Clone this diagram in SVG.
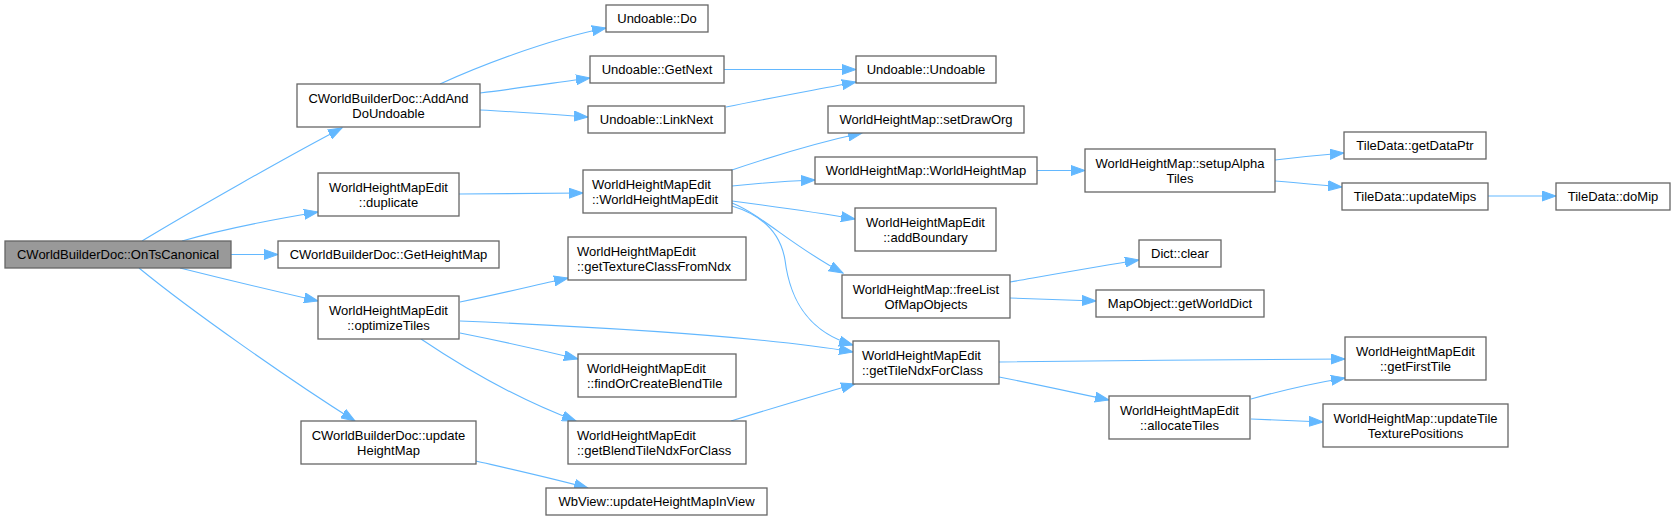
<svg xmlns="http://www.w3.org/2000/svg" width="1675" height="520" viewBox="0 0 1675 520">
<style>
.n rect{fill:#fff;stroke:#666;stroke-width:1.3}
.n.root rect{fill:#999}
.n text{font-family:"Liberation Sans",Arial,sans-serif;font-size:13px;fill:#000;text-anchor:middle}
.n text.l{text-anchor:start}
.e path{fill:none;stroke:#63b8ff;stroke-width:1.1;marker-end:url(#ah)}
</style>
<defs>
<marker id="ah" markerUnits="userSpaceOnUse" markerWidth="15" markerHeight="11" viewBox="0 0 15 11" refX="14" refY="5.5" orient="auto">
<path d="M0,0.5 L14,5.5 L0,10.5 z" fill="#63b8ff" stroke="#63b8ff" stroke-width="1"/>
</marker>
</defs>
<rect width="1675" height="520" fill="#fff"/>
<g id="edges" class="e">
<path d="M142,241 C190,212 290,155 342,128"/>
<path d="M182,241 C220,230 270,220 318,212"/>
<path d="M231,254.5 L278,254.5"/>
<path d="M180,268 C220,278 270,290 318,301"/>
<path d="M139,268 C190,310 290,380 355,421"/>
<path d="M440,84 C475,68 545,40 606,28"/>
<path d="M480,93 C520,88 560,82 590,78"/>
<path d="M480,110 C520,112 560,115 588,117"/>
<path d="M724,69.5 L856,69.5"/>
<path d="M726,107 C770,98 820,89 856,82"/>
<path d="M459,194 L583,193"/>
<path d="M729,171 C770,157 820,142 862,133"/>
<path d="M732,186 C760,183 790,181 815,180"/>
<path d="M732,201 C770,206 820,213 855,219"/>
<path d="M732,203 C762,215 792,246 843,273"/>
<path d="M732,206 C765,216 781,236 785,260 C790,300 808,332 853,345"/>
<path d="M1037,170.5 L1085,170.5"/>
<path d="M1275,160 C1300,157 1320,155 1344,153"/>
<path d="M1275,181 C1300,183 1320,185 1342,187"/>
<path d="M1488,196 L1556,196"/>
<path d="M1010,282 C1050,275 1100,266 1139,260"/>
<path d="M1010,298 C1040,299 1070,300 1096,301"/>
<path d="M460,302 C500,294 540,284 568,278"/>
<path d="M460,321 C600,327 760,336 853,352"/>
<path d="M460,333 C500,341 545,351 578,359"/>
<path d="M421,339 C470,372 520,400 576,421"/>
<path d="M731,421 C770,409 820,394 855,384"/>
<path d="M476,461 C515,470 555,479 588,488"/>
<path d="M999,362 C1100,361 1250,359 1345,359"/>
<path d="M999,377 C1040,385 1080,394 1109,400"/>
<path d="M1251,399 C1280,391 1315,383 1345,378"/>
<path d="M1251,419 C1275,420 1300,421 1323,422"/>
</g>
<g id="n0" class="n root"><rect x="5" y="241" width="226" height="27"/><text x="118" y="259">CWorldBuilderDoc::OnTsCanonical</text></g>
<g id="n1" class="n"><rect x="297" y="84" width="183" height="43"/><text x="388.5" y="102.5">CWorldBuilderDoc::AddAnd</text><text x="388.5" y="118">DoUndoable</text></g>
<g id="n2" class="n"><rect x="318" y="173" width="141" height="43"/><text x="388.5" y="191.5">WorldHeightMapEdit</text><text x="388.5" y="207">::duplicate</text></g>
<g id="n3" class="n"><rect x="278" y="241" width="221" height="27"/><text x="388.5" y="259">CWorldBuilderDoc::GetHeightMap</text></g>
<g id="n4" class="n"><rect x="318" y="296" width="141" height="43"/><text x="388.5" y="314.5">WorldHeightMapEdit</text><text x="388.5" y="330">::optimizeTiles</text></g>
<g id="n5" class="n"><rect x="301" y="421" width="175" height="43"/><text x="388.5" y="439.5">CWorldBuilderDoc::update</text><text x="388.5" y="455">HeightMap</text></g>
<g id="n6" class="n"><rect x="606" y="5" width="102" height="27"/><text x="657" y="23">Undoable::Do</text></g>
<g id="n7" class="n"><rect x="590" y="56" width="134" height="27"/><text x="657" y="74">Undoable::GetNext</text></g>
<g id="n8" class="n"><rect x="588" y="106" width="137" height="27"/><text x="656.5" y="124">Undoable::LinkNext</text></g>
<g id="n9" class="n"><rect x="856" y="56" width="140" height="27"/><text x="926" y="74">Undoable::Undoable</text></g>
<g id="n10" class="n"><rect x="828" y="106" width="196" height="27"/><text x="926" y="124">WorldHeightMap::setDrawOrg</text></g>
<g id="n11" class="n"><rect x="583" y="170" width="149" height="43"/><text class="l" x="592" y="188.5">WorldHeightMapEdit</text><text class="l" x="592" y="204">::WorldHeightMapEdit</text></g>
<g id="n12" class="n"><rect x="815" y="157" width="222" height="27"/><text x="926" y="175">WorldHeightMap::WorldHeightMap</text></g>
<g id="n13" class="n"><rect x="855" y="208" width="141" height="43"/><text x="925.5" y="226.5">WorldHeightMapEdit</text><text x="925.5" y="242">::addBoundary</text></g>
<g id="n14" class="n"><rect x="568" y="237" width="178" height="43"/><text class="l" x="577" y="255.5">WorldHeightMapEdit</text><text class="l" x="577" y="271">::getTextureClassFromNdx</text></g>
<g id="n15" class="n"><rect x="842" y="275" width="168" height="43"/><text x="926" y="293.5">WorldHeightMap::freeList</text><text x="926" y="309">OfMapObjects</text></g>
<g id="n16" class="n"><rect x="853" y="341" width="146" height="43"/><text class="l" x="862" y="359.5">WorldHeightMapEdit</text><text class="l" x="862" y="375">::getTileNdxForClass</text></g>
<g id="n17" class="n"><rect x="578" y="354" width="158" height="43"/><text class="l" x="587" y="372.5">WorldHeightMapEdit</text><text class="l" x="587" y="388">::findOrCreateBlendTile</text></g>
<g id="n18" class="n"><rect x="568" y="421" width="178" height="43"/><text class="l" x="577" y="439.5">WorldHeightMapEdit</text><text class="l" x="577" y="455">::getBlendTileNdxForClass</text></g>
<g id="n19" class="n"><rect x="546" y="488" width="221" height="27"/><text x="656.5" y="506">WbView::updateHeightMapInView</text></g>
<g id="n20" class="n"><rect x="1085" y="149" width="190" height="43"/><text x="1180" y="167.5">WorldHeightMap::setupAlpha</text><text x="1180" y="183">Tiles</text></g>
<g id="n21" class="n"><rect x="1344" y="132" width="142" height="27"/><text x="1415" y="150">TileData::getDataPtr</text></g>
<g id="n22" class="n"><rect x="1342" y="183" width="146" height="27"/><text x="1415" y="201">TileData::updateMips</text></g>
<g id="n23" class="n"><rect x="1556" y="183" width="114" height="27"/><text x="1613" y="201">TileData::doMip</text></g>
<g id="n24" class="n"><rect x="1139" y="240" width="82" height="27"/><text x="1180" y="258">Dict::clear</text></g>
<g id="n25" class="n"><rect x="1096" y="290" width="168" height="27"/><text x="1180" y="308">MapObject::getWorldDict</text></g>
<g id="n26" class="n"><rect x="1345" y="337" width="141" height="43"/><text x="1415.5" y="355.5">WorldHeightMapEdit</text><text x="1415.5" y="371">::getFirstTile</text></g>
<g id="n27" class="n"><rect x="1109" y="396" width="141" height="43"/><text x="1179.5" y="414.5">WorldHeightMapEdit</text><text x="1179.5" y="430">::allocateTiles</text></g>
<g id="n28" class="n"><rect x="1323" y="404" width="185" height="43"/><text x="1415.5" y="422.5">WorldHeightMap::updateTile</text><text x="1415.5" y="438">TexturePositions</text></g>
</svg>
